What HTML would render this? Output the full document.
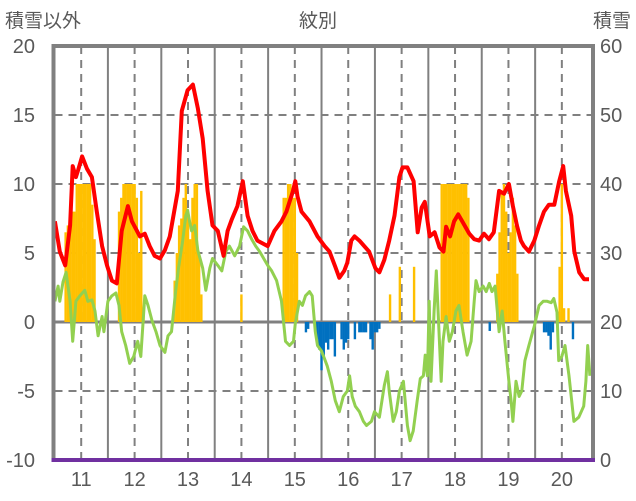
<!DOCTYPE html>
<html><head><meta charset="utf-8"><style>
html,body{margin:0;padding:0;background:#fff;}
svg{display:block;font-family:"Liberation Sans","Noto Sans CJK JP",sans-serif;}
</style></head><body>
<svg id="chart" width="636" height="501" viewBox="0 0 636 501" xmlns="http://www.w3.org/2000/svg">
<g id="grid"></g>
<g id="bars"></g>
<g id="lines"></g>
<g id="frame"></g>
<g id="labels"></g>
<text x="5" y="27" font-size="19" fill="#595959">積雪以外</text>
<text x="318" y="27" font-size="19" fill="#595959" text-anchor="middle">紋別</text>
<text x="631" y="27" font-size="19" fill="#595959" text-anchor="end">積雪</text>
</svg>
<script>
const yearLabels=["11","12","13","14","15","16","17","18","19","20"];
const leftTicks=[20,15,10,5,0,-5,-10];
const rightTicks=[60,50,40,30,20,10,0];
const redMonths=[0.1,1.2,2.4,3.5,4.1,4.8,5.3,6.2,7.3,8.4,9.5,10.7,11.8,12.9,14.0,15.1,16.5,17.4,19.2,20.3,21.4,22.5,23.7,24.8,25.9,27.7,28.6,29.9,31.1,32.2,33.3,34.4,35.5,36.7,38.0,38.9,39.8,41.1,42.3,43.4,44.5,45.6,47.9,49.4,51.0,52.1,52.8,53.5,54.1,54.6,55.5,57.3,59.1,60.7,61.8,63.1,64.0,65.1,65.8,66.7,67.4,68.5,69.6,70.7,72.1,73.0,74.1,75.2,76.4,77.5,78.2,79.3,80.7,81.6,82.5,83.2,84.3,85.4,86.5,87.4,88.0,88.9,89.8,90.7,91.6,93.2,94.3,95.4,96.5,97.6,98.7,99.9,101.0,102.1,103.0,103.9,104.8,105.5,106.6,107.8,108.9,110.0,111.1,112.3,113.4,114.3,114.9,116.1,116.8,117.9,119.0,120.1];
const redValues=[7.3,5.1,4.1,7.0,11.3,10.5,11.0,12.0,11.1,10.5,8.0,5.5,4.1,3.0,2.8,6.6,8.4,7.3,6.2,6.4,5.5,4.8,4.6,5.2,6.2,9.5,15.3,16.8,17.2,15.5,13.3,9.5,7.0,6.6,4.8,6.6,7.4,8.4,10.2,7.7,6.6,5.9,5.5,6.6,7.3,8.0,8.7,9.4,10.2,9.1,8.0,7.3,6.2,5.5,5.1,4.0,3.2,3.7,4.3,5.9,6.2,5.9,5.5,5.1,3.9,3.6,4.5,5.9,7.7,10.5,11.2,11.2,10.2,6.5,8.3,8.7,6.2,6.5,5.4,5.1,6.9,6.2,7.3,7.8,7.3,6.4,6.0,5.9,6.4,6.0,6.5,9.5,9.3,10.0,8.4,7.0,5.9,5.5,5.1,5.9,7.0,8.0,8.5,8.5,10.2,11.3,9.5,7.7,5.1,3.6,3.1,3.1];
const greenMonths=[0.1,0.8,1.2,1.9,2.6,3.5,4.1,4.8,5.7,6.8,7.5,8.4,9.1,9.8,10.7,11.1,12.0,12.9,13.8,14.5,15.1,16.0,16.9,17.8,18.7,19.4,20.3,21.0,21.9,22.8,23.7,24.8,25.5,26.3,27.2,27.9,28.8,29.5,29.9,30.4,30.8,31.5,32.2,33.3,34.0,34.9,35.5,36.7,37.6,38.5,39.3,40.5,41.6,42.5,43.4,44.3,45.2,46.1,47.0,47.9,48.8,49.9,51.0,51.9,52.8,53.7,54.1,55.0,55.7,56.4,57.3,57.9,58.6,59.1,60.0,60.6,61.3,62.2,63.1,64.0,64.9,65.8,66.3,66.9,67.6,68.5,69.4,70.1,71.2,71.9,73.0,74.1,74.8,75.2,76.1,76.8,77.5,78.4,79.3,79.9,80.6,81.5,82.2,82.9,83.3,83.8,84.2,84.6,85.3,85.8,86.4,86.9,87.3,88.0,88.7,89.4,90.2,90.9,91.8,92.7,93.6,94.3,94.7,95.4,96.3,97.0,97.7,98.3,99.0,99.9,100.6,101.2,102.1,102.6,103.0,103.7,104.4,105.0,105.7,106.6,107.8,108.9,109.8,110.7,111.6,112.2,112.9,113.3,114.0,114.7,115.6,116.7,117.8,118.9,119.4,119.8,120.3];
const greenValues=[1.5,2.6,1.5,2.9,3.6,1.5,-1.4,1.5,1.9,2.3,1.5,1.6,0.8,-1.0,0.4,-0.7,1.5,1.9,2.1,1.2,-0.7,-1.7,-3.0,-2.5,-1.4,-2.5,1.9,1.2,0.1,-0.7,-1.7,-2.2,-1.0,-0.7,2.2,4.0,5.9,7.7,8.1,7.2,6.6,7.0,5.2,3.9,2.3,3.9,4.6,4.1,3.7,5.1,5.5,4.8,5.5,6.9,6.6,6.0,5.5,5.1,4.6,4.1,3.7,3.0,1.5,-1.4,-1.7,-1.4,-0.1,1.5,1.2,1.9,2.2,1.9,-0.7,-1.7,-2.1,-2.6,-3.2,-4.3,-5.7,-6.5,-5.4,-5.0,-3.9,-5.4,-6.1,-6.5,-7.2,-7.5,-7.2,-6.5,-6.9,-4.6,-3.6,-5.0,-7.2,-6.5,-5.0,-4.3,-7.5,-8.6,-7.9,-5.7,-4.1,-3.9,-2.4,-3.9,1.5,-4.3,0.8,3.7,-0.7,-4.3,-1.4,0.4,-1.4,-0.7,0.8,1.2,-0.7,-2.4,-1.4,1.5,3.0,2.2,2.6,2.2,2.8,2.2,2.6,-0.7,0.8,-1.4,-4.3,-5.7,-7.2,-4.3,-5.4,-5.0,-2.8,-1.7,-0.3,1.2,1.5,1.5,1.4,1.7,0.7,-2.8,-2.5,-1.7,-3.9,-7.2,-6.9,-6.1,-4.3,-1.7,-3.9];
const snowMonths=[2.5,3.0,3.5,4.0,4.5,5.0,5.5,6.0,6.5,7.0,7.5,8.0,8.5,9.0,14.5,15.0,15.5,16.0,16.5,17.0,17.5,18.0,18.5,19.0,19.5,20.0,27.0,27.5,28.0,28.5,29.0,29.5,30.0,30.5,31.0,31.5,32.0,32.5,33.0,42.0,51.5,52.0,52.5,53.0,53.5,54.0,54.5,56.5,57.0,59.0,59.5,60.0,60.5,61.0,61.5,62.0,62.5,63.0,64.5,65.0,65.5,66.0,67.5,68.5,69.0,69.5,70.0,71.0,71.5,72.0,72.5,73.0,75.4,77.6,80.8,87.0,87.5,88.0,88.5,89.0,89.5,90.0,90.5,91.0,91.5,92.0,92.5,93.0,97.8,99.5,100.0,100.5,101.0,101.5,102.0,102.5,103.0,103.5,104.0,110.0,110.5,111.0,111.5,112.0,113.5,114.0,114.5,115.5,116.5];
const snowValues=[33,34,35,36,36,40,40,40,40,40,40,40,37,32,36,38,40,40,40,40,40,40,38,30,39,22,26,30,34,35,38,40,36,32,38,40,40,30,24,24,38,38,40,40,38,38,30,18.5,19,17.5,16,13,15,17,16,17.5,17.5,15,17.5,16,17,17.5,17.5,18.5,18.5,18.5,18.5,17.5,16,18.5,18.5,19,24,28,28,40,40,40,40,40,40,40,40,40,40,40,40,38,18.7,27,33,39,40,36,30,33,38,34,27,18.5,18.5,18,16,18.5,28,40,22,22,17.5];

const NS="http://www.w3.org/2000/svg";
const L=54.5,R=593,T=46,B=460;
const monthW=(R-L)/121;
function xM(m){return L+m*monthW;}
function yL(v){return B-(v+10)/30*(B-T);}
function yR(v){return B-v/60*(B-T);}
function mk(tag,attrs,parent){const e=document.createElementNS(NS,tag);for(const k in attrs)e.setAttribute(k,attrs[k]);parent.appendChild(e);return e;}
const grid=document.getElementById('grid'),bars=document.getElementById('bars'),lines=document.getElementById('lines'),frame=document.getElementById('frame'),labels=document.getElementById('labels');

leftTicks.forEach(v=>{
  if(v!==20&&v!==-10&&v!==0){
    const g=mk('line',{x1:L,x2:R,y1:yL(v),y2:yL(v),stroke:'#808080','stroke-width':2,'stroke-dasharray':'8,6'},grid);
    
    
  }
  const t=mk('text',{x:35,y:yL(v)+7,'font-size':20,fill:'#595959','text-anchor':'end'},labels);
  t.textContent=v;
  
  
});
rightTicks.forEach(v=>{
  const t=mk('text',{x:600,y:yR(v)+7,'font-size':20,fill:'#595959'},labels);
  t.textContent=v;
  
  
});
yearLabels.forEach((lab,i)=>{
  const xs=xM(i*12), xc=xM(i*12+6);
  if(i>0){
    const s=mk('line',{x1:xs,x2:xs,y1:T,y2:B,stroke:'#808080','stroke-width':2},grid);
    
    
  }
  const d=mk('line',{x1:xc,x2:xc,y1:T,y2:B,stroke:'#808080','stroke-width':2,'stroke-dasharray':'8,6'},grid);
  
  
  const t=mk('text',{x:xc,y:486,'font-size':20,fill:'#595959','text-anchor':'middle'},labels);
  t.textContent=lab;
  
  
});
snowMonths.forEach((m,i)=>{
  const v=snowValues[i];
  const y0=yR(20),y1=yR(v);
  const r=mk('rect',{x:xM(m)-1.2,y:Math.min(y0,y1),width:2.4,height:Math.abs(y1-y0),fill:v>=20?'#FFC000':'#0070C0'},bars);
  
  
});
const zl=mk('line',{x1:L,x2:R,y1:yL(0),y2:yL(0),stroke:'#808080','stroke-width':3},grid);


function path(ms,vs){return ms.map((m,i)=>(i?'L':'M')+xM(m).toFixed(1)+','+yL(vs[i]).toFixed(1)).join(' ');}
const gp=mk('path',{d:path(greenMonths,greenValues),fill:'none',stroke:'#92D050','stroke-width':3,'stroke-linejoin':'round'},lines);


const rp=mk('path',{d:path(redMonths,redValues),fill:'none',stroke:'#FF0000','stroke-width':4,'stroke-linejoin':'round'},lines);


const fr=mk('path',{d:`M${L-1},${B} L${L-1},${T} L${R},${T} L${R},${B}`,fill:'none',stroke:'#808080','stroke-width':4},frame);


const pl=mk('line',{x1:L-3,x2:R+2,y1:B,y2:B,stroke:'#7030A0','stroke-width':4},frame);


</script>
</body></html>
